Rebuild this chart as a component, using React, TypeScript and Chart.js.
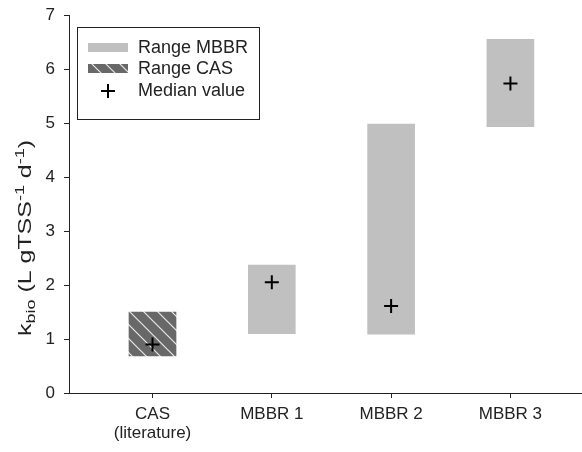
import React, { useEffect, useRef } from "react";
import { Chart, registerables } from "chart.js";

Chart.register(...registerables);

const categories: string[][] = [["CAS", "(literature)"], ["MBBR 1"], ["MBBR 2"], ["MBBR 3"]];
const positions = [1, 2, 3, 4];
const rangeLow = [0.685, 1.1, 1.09, 4.93];
const rangeHigh = [1.5, 2.37, 4.98, 6.55];
const medians = [0.9, 2.05, 1.61, 5.73];
const yTicks = [0, 1, 2, 3, 4, 5, 6, 7];
const legendLabels = ["Range MBBR", "Range CAS", "Median value"];

const FONT = "Liberation Sans, Arial, sans-serif";
const INK = "#222222";
const MBBR_GREY = "#c0c0c0";

function makeHatch(): CanvasPattern | string {
  const c = document.createElement("canvas");
  c.width = 14;
  c.height = 14;
  const g = c.getContext("2d");
  if (!g) return "#666666";
  g.fillStyle = "#686868";
  g.fillRect(0, 0, 14, 14);
  g.strokeStyle = "#e8e8e8";
  g.lineWidth = 1.2;
  g.beginPath();
  g.moveTo(-1, -1);
  g.lineTo(15, 15);
  g.moveTo(-8, 6);
  g.lineTo(8, 22);
  g.moveTo(6, -8);
  g.lineTo(22, 8);
  g.stroke();
  const p = g.createPattern(c, "repeat");
  return p || "#666666";
}

export default function App() {
  const ref = useRef<HTMLCanvasElement | null>(null);

  useEffect(() => {
    if (!ref.current) return;
    const hatch = makeHatch();

    const mbbrData = positions.slice(1).map((x, i) => ({ x, y: [rangeLow[i + 1], rangeHigh[i + 1]] }));
    const casData = [{ x: positions[0], y: [rangeLow[0], rangeHigh[0]] }];
    const medData = positions.map((x, i) => ({ x, y: medians[i] }));

    const overlay = {
      id: "overlay",
      afterDraw(chart: any) {
        const ctx = chart.ctx as CanvasRenderingContext2D;
        ctx.save();
        // y-axis title with sub/superscripts
        const parts: [string, number, number][] = [
          ["k", 18, 0],
          ["bio", 13, 5],
          [" (L gTSS", 18, 0],
          ["-1", 13, -6],
          [" d", 18, 0],
          ["-1", 13, -6],
          [")", 18, 0],
        ];
        let total = 0;
        for (const [t, s] of parts) {
          ctx.font = `${s}px ${FONT}`;
          total += ctx.measureText(t).width;
        }
        const target = 196;
        const k = target / total;
        ctx.translate(26, 238);
        ctx.rotate(-Math.PI / 2);
        ctx.scale(k, 1);
        let xx = -total / 2;
        ctx.fillStyle = INK;
        ctx.textBaseline = "middle";
        ctx.textAlign = "left";
        for (const [t, s, dy] of parts) {
          ctx.font = `${s}px ${FONT}`;
          ctx.fillText(t, xx, dy);
          xx += ctx.measureText(t).width;
        }
        ctx.restore();

        // legend
        ctx.save();
        ctx.strokeStyle = INK;
        ctx.lineWidth = 1;
        ctx.strokeRect(77.5, 27.5, 182, 92);
        ctx.fillStyle = MBBR_GREY;
        ctx.fillRect(88, 43, 40, 9);
        ctx.fillStyle = hatch as any;
        ctx.fillRect(88, 64, 40, 9);
        ctx.strokeStyle = "#000";
        ctx.lineWidth = 2;
        ctx.beginPath();
        ctx.moveTo(101, 91);
        ctx.lineTo(115, 91);
        ctx.moveTo(108, 84);
        ctx.lineTo(108, 98);
        ctx.stroke();
        ctx.fillStyle = INK;
        ctx.font = `18px ${FONT}`;
        ctx.textBaseline = "middle";
        ctx.textAlign = "left";
        const rows = [48, 69, 91];
        legendLabels.forEach((l, i) => ctx.fillText(l, 138, rows[i]));
        ctx.restore();
      },
    };

    const chart = new Chart(ref.current, {
      data: {
        datasets: [
          {
            type: "bar",
            label: legendLabels[0],
            data: mbbrData as any,
            backgroundColor: MBBR_GREY,
            borderWidth: 0,
            barThickness: 47,
            grouped: false,
            order: 2,
          },
          {
            type: "bar",
            label: legendLabels[1],
            data: casData as any,
            backgroundColor: hatch as any,
            borderWidth: 0,
            barThickness: 47,
            grouped: false,
            order: 2,
          },
          {
            type: "scatter",
            label: legendLabels[2],
            data: medData as any,
            pointStyle: "cross",
            radius: 7,
            borderWidth: 2,
            borderColor: "#000",
            backgroundColor: "#000",
            order: 1,
          },
        ],
      } as any,
      options: {
        animation: false,
        responsive: false,
        devicePixelRatio: 1,
        layout: { autoPadding: false, padding: { top: 15, right: 0, left: 0, bottom: 0 } },
        plugins: { legend: { display: false }, tooltip: { enabled: false } },
        scales: {
          x: {
            type: "linear",
            min: 0.3,
            max: 4.6,
            offset: false,
            afterBuildTicks: (s: any) => {
              s.ticks = positions.map((v) => ({ value: v }));
            },
            afterFit: (s: any) => {
              s.height = 59;
              s.paddingLeft = 0;
              s.paddingRight = 0;
              s.paddingTop = 0;
              s.paddingBottom = 0;
            },
            ticks: {
              callback: (v: any) => {
                const i = positions.indexOf(Number(v));
                return i >= 0 ? categories[i] : "";
              },
              font: { family: FONT, size: 17, lineHeight: 1.12 },
              color: INK,
              padding: 7,
              maxRotation: 0,
              autoSkip: false,
            },
            grid: { drawOnChartArea: false, tickLength: 5, color: INK, offset: false },
            border: { color: INK, width: 1 },
          },
          y: {
            type: "linear",
            min: 0,
            max: 7,
            afterBuildTicks: (s: any) => {
              s.ticks = yTicks.map((v) => ({ value: v }));
            },
            afterFit: (s: any) => {
              s.width = 69;
              s.paddingLeft = 0;
              s.paddingRight = 0;
              s.paddingTop = 0;
              s.paddingBottom = 0;
            },
            ticks: {
              font: { family: FONT, size: 17 },
              color: INK,
              padding: 9,
            },
            grid: { drawOnChartArea: false, tickLength: 5, color: INK },
            border: { color: INK, width: 1 },
          },
        },
      } as any,
      plugins: [overlay],
    });
    return () => chart.destroy();
  }, []);

  return (
    <div style={{ position: "absolute", left: 0, top: 0, width: 582, height: 452, background: "#fff" }}>
      <canvas ref={ref} width={582} height={452} style={{ display: "block" }} />
    </div>
  );
}
